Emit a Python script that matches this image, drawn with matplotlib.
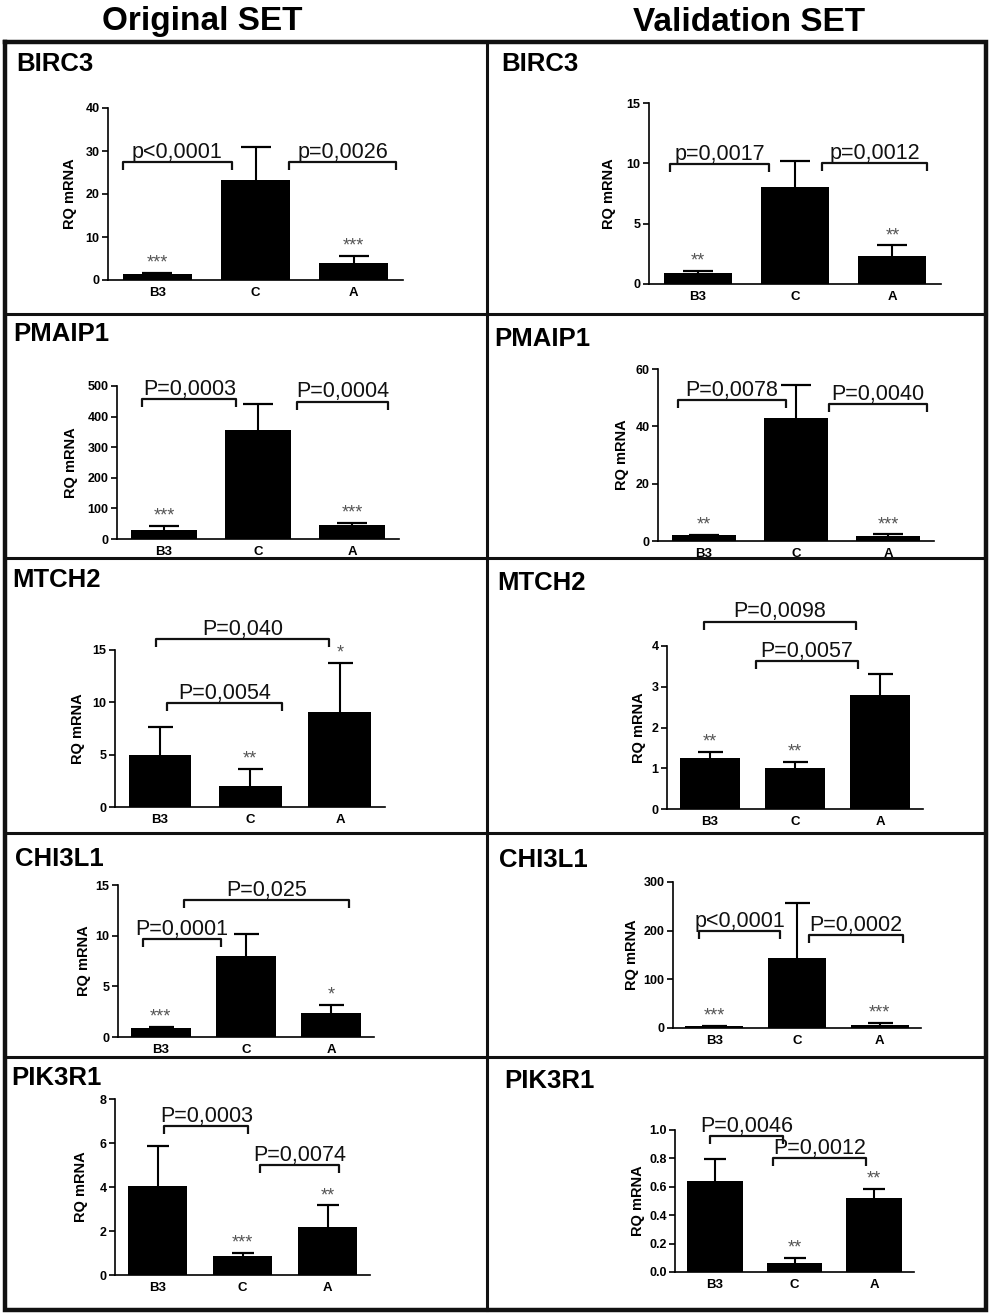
import numpy as np
import matplotlib.pyplot as plt

plt.rcParams['font.family'] = ['Liberation Sans', 'DejaVu Sans']

W, H = 992, 1315

groups = ['B3', 'C', 'A']
set_titles = ['Original SET', 'Validation SET']
genes = ['BIRC3', 'PMAIP1', 'MTCH2', 'CHI3L1', 'PIK3R1']

# ---- values (mean, upper SEM, stars, p labels) ----
birc3_orig_mean = [1.3, 23.3, 4.0]
birc3_orig_sem = [0.3, 7.7, 1.6]
birc3_orig_stars = ['***', '', '***']
birc3_orig_p = ['p<0,0001', 'p=0,0026']
birc3_orig_pbar = [27.4, 27.4]

birc3_val_mean = [0.88, 8.06, 2.3]
birc3_val_sem = [0.22, 2.14, 0.9]
birc3_val_stars = ['**', '', '**']
birc3_val_p = ['p=0,0017', 'p=0,0012']
birc3_val_pbar = [9.94, 10.05]

pmaip1_orig_mean = [29, 356, 46]
pmaip1_orig_sem = [13, 84, 7]
pmaip1_orig_stars = ['***', '', '***']
pmaip1_orig_p = ['P=0,0003', 'P=0,0004']
pmaip1_orig_pbar = [456, 449]

pmaip1_val_mean = [2.0, 42.8, 1.9]
pmaip1_val_sem = [0.2, 11.7, 0.4]
pmaip1_val_stars = ['**', '', '***']
pmaip1_val_p = ['P=0,0078', 'P=0,0040']
pmaip1_val_pbar = [49.3, 47.8]

mtch2_orig_mean = [5.0, 2.0, 9.1]
mtch2_orig_sem = [2.6, 1.67, 4.7]
mtch2_orig_stars = ['', '**', '*']
mtch2_orig_p = ['P=0,040', 'P=0,0054']
mtch2_orig_pbar = [16.05, 9.95]

mtch2_val_mean = [1.26, 1.0, 2.8]
mtch2_val_sem = [0.13, 0.16, 0.52]
mtch2_val_stars = ['**', '**', '']
mtch2_val_p = ['P=0,0098', 'P=0,0057']
mtch2_val_pbar = [4.6, 3.63]

chi3l1_orig_mean = [0.92, 8.03, 2.34]
chi3l1_orig_sem = [0.1, 2.17, 0.82]
chi3l1_orig_stars = ['***', '', '*']
chi3l1_orig_p = ['P=0,0001', 'P=0,025']
chi3l1_orig_pbar = [9.67, 13.5]

chi3l1_val_mean = [4, 143, 7]
chi3l1_val_sem = [1, 114, 4]
chi3l1_val_stars = ['***', '', '***']
chi3l1_val_p = ['p<0,0001', 'P=0,0002']
chi3l1_val_pbar = [199.5, 191]

pik3r1_orig_mean = [4.05, 0.88, 2.2]
pik3r1_orig_sem = [1.82, 0.14, 0.96]
pik3r1_orig_stars = ['', '***', '**']
pik3r1_orig_p = ['P=0,0003', 'P=0,0074']
pik3r1_orig_pbar = [6.78, 5.0]

pik3r1_val_mean = [0.643, 0.066, 0.52]
pik3r1_val_sem = [0.152, 0.034, 0.065]
pik3r1_val_stars = ['', '**', '**']
pik3r1_val_p = ['P=0,0046', 'P=0,0012']
pik3r1_val_pbar = [0.96, 0.80]

panel_data = [
    (birc3_orig_mean, birc3_orig_sem, birc3_orig_stars, birc3_orig_p, birc3_orig_pbar),
    (birc3_val_mean, birc3_val_sem, birc3_val_stars, birc3_val_p, birc3_val_pbar),
    (pmaip1_orig_mean, pmaip1_orig_sem, pmaip1_orig_stars, pmaip1_orig_p, pmaip1_orig_pbar),
    (pmaip1_val_mean, pmaip1_val_sem, pmaip1_val_stars, pmaip1_val_p, pmaip1_val_pbar),
    (mtch2_orig_mean, mtch2_orig_sem, mtch2_orig_stars, mtch2_orig_p, mtch2_orig_pbar),
    (mtch2_val_mean, mtch2_val_sem, mtch2_val_stars, mtch2_val_p, mtch2_val_pbar),
    (chi3l1_orig_mean, chi3l1_orig_sem, chi3l1_orig_stars, chi3l1_orig_p, chi3l1_orig_pbar),
    (chi3l1_val_mean, chi3l1_val_sem, chi3l1_val_stars, chi3l1_val_p, chi3l1_val_pbar),
    (pik3r1_orig_mean, pik3r1_orig_sem, pik3r1_orig_stars, pik3r1_orig_p, pik3r1_orig_pbar),
    (pik3r1_val_mean, pik3r1_val_sem, pik3r1_val_stars, pik3r1_val_p, pik3r1_val_pbar),
]

# ---- layout (pixels): axes box, y scale, bracket spans, label spots ----
layout = [
    dict(box=(108, 403, 108, 280), ymax=40, step=10, spans=[(-0.35, 0.76), (1.34, 2.43)], ylab=70, cap=11, gene=(16, 71)),
    dict(box=(649, 941, 103, 284), ymax=15, step=5, spans=[(-0.28, 0.73), (1.28, 2.36)], ylab=609, cap=11, gene=(501, 71)),
    dict(box=(117, 399, 386, 539), ymax=500, step=100, spans=[(-0.23, 0.77), (1.42, 2.38)], ylab=71, cap=11, gene=(13, 341)),
    dict(box=(658, 934, 369, 541), ymax=60, step=20, spans=[(-0.28, 0.89), (1.36, 2.42)], ylab=622, cap=11, gene=(494, 346)),
    dict(box=(115, 385, 650, 807), ymax=15, step=5, spans=[(-0.05, 1.88), (0.08, 1.36)], ylab=78, cap=9, gene=(12, 587)),
    dict(box=(667, 923, 646, 809), ymax=4, step=1, spans=[(-0.07, 1.71), (0.54, 1.74)], ylab=639, cap=9, gene=(497, 590)),
    dict(box=(118, 374, 885, 1037), ymax=15, step=5, spans=[(-0.21, 0.71), (0.27, 2.21)], ylab=84, cap=9, gene=(15, 866)),
    dict(box=(673, 921, 882, 1028), ymax=300, step=100, spans=[(-0.18, 0.80), (1.14, 2.28)], ylab=632, cap=9, gene=(499, 867)),
    dict(box=(115, 370, 1099, 1275), ymax=8, step=2, spans=[(0.08, 1.07), (1.20, 2.14)], ylab=81, cap=8, gene=(11, 1085)),
    dict(box=(675, 914, 1130, 1272), ymax=1.0, step=0.2, spans=[(-0.06, 0.86), (0.73, 1.90)], ylab=638, cap=8, gene=(504, 1088)),
]


def px_rect(x0, x1, ytop, ybot):
    return [x0 / W, 1 - ybot / H, (x1 - x0) / W, (ybot - ytop) / H]


def draw_panel(ax, mean, sem, stars, pvals, pbar, lay):
    x = np.arange(len(groups))
    mean = np.asarray(mean, dtype=float)
    top = mean + np.asarray(sem, dtype=float)
    ax.bar(x, mean, width=0.7, color='black', linewidth=0, zorder=2)
    # upper-only error bars (GraphPad style)
    ax.vlines(x, mean, top, color='black', lw=1.5, zorder=1)
    ax.plot(x, top, linestyle='none', marker='_', markersize=2 * lay['cap'],
            markeredgewidth=1.6, color='black', zorder=1, clip_on=False)
    for xi, t, st in zip(x, top, stars):
        if st:
            ax.annotate(st, (xi, t), xytext=(0, 1), textcoords='offset points',
                        ha='center', va='bottom', fontsize=13, color='#555555',
                        annotation_clip=False)

    x0, x1, ytop, ybot = lay['box']
    drop = 8 * lay['ymax'] / (ybot - ytop)
    for (xa, xb), yb, label in zip(lay['spans'], pbar, pvals):
        ax.plot([xa, xa, xb, xb], [yb - drop, yb, yb, yb - drop], color='#111111',
                lw=1.6, clip_on=False, solid_capstyle='butt')
        ax.annotate(label, ((xa + xb) / 2, yb), xytext=(0, 3), textcoords='offset points',
                    ha='center', va='baseline', fontsize=15.5, color='#111111',
                    annotation_clip=False)

    ax.set_xlim(-0.5, 2.5)
    ax.set_ylim(0, lay['ymax'])
    ax.set_yticks(np.arange(0, lay['ymax'] + lay['step'] / 2, lay['step']))
    ax.set_xticks(x)
    ax.set_xticklabels(groups)
    for side in ['top', 'right']:
        ax.spines[side].set_visible(False)
    for side in ['left', 'bottom']:
        ax.spines[side].set_linewidth(1.2)
    ax.tick_params(axis='y', direction='out', length=4, width=1.2, labelsize=9, pad=2)
    ax.tick_params(axis='x', length=0, labelsize=9.5, pad=5)
    for lbl in ax.get_yticklabels() + ax.get_xticklabels():
        lbl.set_fontweight('bold')
    ax.text((lay['ylab'] - x0) / (x1 - x0), 0.5, 'RQ mRNA', transform=ax.transAxes,
            rotation=90, ha='center', va='center', fontsize=10.5, fontweight='bold')
    ax.set_facecolor('none')


fig = plt.figure(figsize=(W / 100, H / 100), dpi=100)

# frame, headers and gene names drawn in pixel coordinates
bg = fig.add_axes([0, 0, 1, 1])
bg.set_xlim(0, W)
bg.set_ylim(H, 0)
bg.axis('off')

bg.text(202, 30, set_titles[0], ha='center', va='baseline', fontsize=24, fontweight='bold')
bg.text(749, 30.5, set_titles[1], ha='center', va='baseline', fontsize=24, fontweight='bold')

row_lines = [314, 558, 833, 1057]
for yl in row_lines:
    bg.plot([5, 986], [yl, yl], color='#111111', lw=2.2)
bg.plot([487, 487], [42, 1310], color='#111111', lw=2.2)
bg.plot([5, 986, 986, 5, 5], [42, 42, 1310, 1310, 42], color='#111111', lw=3.2,
        solid_joinstyle='miter')

for i, (data, lay) in enumerate(zip(panel_data, layout)):
    ax = fig.add_axes(px_rect(*lay['box']))
    draw_panel(ax, *data, lay)
    gx, gy = lay['gene']
    bg.text(gx, gy, genes[i // 2], ha='left', va='baseline', fontsize=18.5, fontweight='bold')

fig.savefig('out.png', dpi=100, facecolor='white')
